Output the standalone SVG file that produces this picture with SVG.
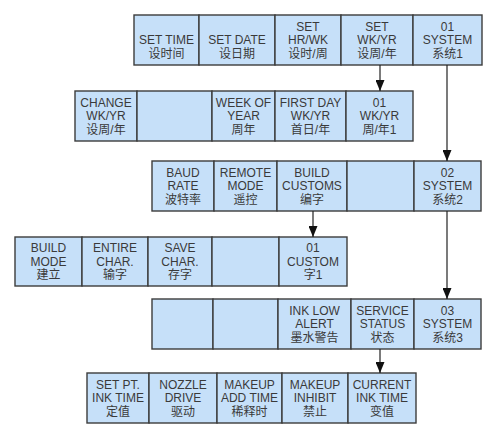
<svg xmlns="http://www.w3.org/2000/svg" width="500" height="439" viewBox="0 0 500 439">
<style>
.c{fill:#c6e0f9;stroke:#3c3c3c;stroke-width:1.4}
.t{font-family:"Liberation Sans","Noto Sans CJK SC",sans-serif;font-size:12px;fill:#3a3a3a;text-anchor:middle}
.l{stroke:#222;stroke-width:1.2;fill:none}
</style>
<defs>
<marker id="ah" markerWidth="11" markerHeight="9" refX="11" refY="4.5" orient="auto" markerUnits="userSpaceOnUse" viewBox="0 0 11 9">
<path d="M0,0 L11,4.5 L0,9 Z" fill="#111"/>
</marker>
</defs>
<rect width="500" height="439" fill="#fff"/>

<!-- Row 1 -->
<g id="set-time"><rect class="c" x="134" y="15" width="65" height="50"/><text class="t"><tspan x="166.5" y="44">SET TIME</tspan><tspan x="166.5" y="57.5">设时间</tspan></text></g>
<g id="set-date"><rect class="c" x="199" y="15" width="76" height="50"/><text class="t"><tspan x="237" y="44">SET DATE</tspan><tspan x="237" y="57.5">设日期</tspan></text></g>
<g id="set-hrwk"><rect class="c" x="275" y="15" width="66" height="50"/><text class="t"><tspan x="308" y="30.5">SET</tspan><tspan x="308" y="44">HR/WK</tspan><tspan x="308" y="57.5">设时/周</tspan></text></g>
<g id="set-wkyr"><rect class="c" x="341" y="15" width="72" height="50"/><text class="t"><tspan x="377" y="30.5">SET</tspan><tspan x="377" y="44">WK/YR</tspan><tspan x="377" y="57.5">设周/年</tspan></text></g>
<g id="system1"><rect class="c" x="413" y="15" width="69" height="50"/><text class="t"><tspan x="447.5" y="30.5">01</tspan><tspan x="447.5" y="44">SYSTEM</tspan><tspan x="447.5" y="57.5">系统1</tspan></text></g>

<!-- Row 2 -->
<g id="change-wkyr"><rect class="c" x="75" y="91" width="62" height="50"/><text class="t"><tspan x="106" y="106.5">CHANGE</tspan><tspan x="106" y="120">WK/YR</tspan><tspan x="106" y="133.5">设周/年</tspan></text></g>
<g id="blank-2"><rect class="c" x="137" y="91" width="75" height="50"/></g>
<g id="week-of-year"><rect class="c" x="212" y="91" width="63" height="50"/><text class="t"><tspan x="243.5" y="106.5">WEEK OF</tspan><tspan x="243.5" y="120">YEAR</tspan><tspan x="243.5" y="133.5">周年</tspan></text></g>
<g id="first-day"><rect class="c" x="275" y="91" width="71" height="50"/><text class="t"><tspan x="310.5" y="106.5">FIRST DAY</tspan><tspan x="310.5" y="120">WK/YR</tspan><tspan x="310.5" y="133.5">首日/年</tspan></text></g>
<g id="wkyr1"><rect class="c" x="346" y="91" width="67" height="50"/><text class="t"><tspan x="379.5" y="106.5">01</tspan><tspan x="379.5" y="120">WK/YR</tspan><tspan x="379.5" y="133.5">周/年1</tspan></text></g>

<!-- Row 3 -->
<g id="baud-rate"><rect class="c" x="152" y="161" width="62" height="50"/><text class="t"><tspan x="183" y="176.5">BAUD</tspan><tspan x="183" y="190">RATE</tspan><tspan x="183" y="203.5">波特率</tspan></text></g>
<g id="remote-mode"><rect class="c" x="214" y="161" width="63" height="50"/><text class="t"><tspan x="245.5" y="176.5">REMOTE</tspan><tspan x="245.5" y="190">MODE</tspan><tspan x="245.5" y="203.5">遥控</tspan></text></g>
<g id="build-customs"><rect class="c" x="277" y="161" width="70" height="50"/><text class="t"><tspan x="312" y="176.5">BUILD</tspan><tspan x="312" y="190">CUSTOMS</tspan><tspan x="312" y="203.5">编字</tspan></text></g>
<g id="blank-3"><rect class="c" x="347" y="161" width="67" height="50"/></g>
<g id="system2"><rect class="c" x="414" y="161" width="67" height="50"/><text class="t"><tspan x="447.5" y="176.5">02</tspan><tspan x="447.5" y="190">SYSTEM</tspan><tspan x="447.5" y="203.5">系统2</tspan></text></g>

<!-- Row 4 -->
<g id="build-mode"><rect class="c" x="15" y="237" width="67" height="49"/><text class="t"><tspan x="48.5" y="252">BUILD</tspan><tspan x="48.5" y="265.5">MODE</tspan><tspan x="48.5" y="279">建立</tspan></text></g>
<g id="entire-char"><rect class="c" x="82" y="237" width="66" height="49"/><text class="t"><tspan x="115" y="252">ENTIRE</tspan><tspan x="115" y="265.5">CHAR.</tspan><tspan x="115" y="279">输字</tspan></text></g>
<g id="save-char"><rect class="c" x="148" y="237" width="64" height="49"/><text class="t"><tspan x="180" y="252">SAVE</tspan><tspan x="180" y="265.5">CHAR.</tspan><tspan x="180" y="279">存字</tspan></text></g>
<g id="blank-4"><rect class="c" x="212" y="237" width="67" height="49"/></g>
<g id="custom1"><rect class="c" x="279" y="237" width="68" height="49"/><text class="t"><tspan x="313" y="252">01</tspan><tspan x="313" y="265.5">CUSTOM</tspan><tspan x="313" y="279">字1</tspan></text></g>

<!-- Row 5 -->
<g id="blank-5a"><rect class="c" x="152" y="299" width="61" height="50"/></g>
<g id="blank-5b"><rect class="c" x="213" y="299" width="65" height="50"/></g>
<g id="ink-low-alert"><rect class="c" x="278" y="299" width="73" height="50"/><text class="t"><tspan x="314.5" y="314.5">INK LOW</tspan><tspan x="314.5" y="328">ALERT</tspan><tspan x="314.5" y="341.5">墨水警告</tspan></text></g>
<g id="service-status"><rect class="c" x="351" y="299" width="63" height="50"/><text class="t"><tspan x="382.5" y="314.5">SERVICE</tspan><tspan x="382.5" y="328">STATUS</tspan><tspan x="382.5" y="341.5">状态</tspan></text></g>
<g id="system3"><rect class="c" x="414" y="299" width="67" height="50"/><text class="t"><tspan x="447.5" y="314.5">03</tspan><tspan x="447.5" y="328">SYSTEM</tspan><tspan x="447.5" y="341.5">系统3</tspan></text></g>

<!-- Row 6 -->
<g id="set-pt-ink-time"><rect class="c" x="87" y="373" width="62" height="50"/><text class="t"><tspan x="118" y="388.5">SET PT.</tspan><tspan x="118" y="402">INK TIME</tspan><tspan x="118" y="415.5">定值</tspan></text></g>
<g id="nozzle-drive"><rect class="c" x="149" y="373" width="68" height="50"/><text class="t"><tspan x="183" y="388.5">NOZZLE</tspan><tspan x="183" y="402">DRIVE</tspan><tspan x="183" y="415.5">驱动</tspan></text></g>
<g id="makeup-add-time"><rect class="c" x="217" y="373" width="65" height="50"/><text class="t"><tspan x="249.5" y="388.5">MAKEUP</tspan><tspan x="249.5" y="402">ADD TIME</tspan><tspan x="249.5" y="415.5">稀释时</tspan></text></g>
<g id="makeup-inhibit"><rect class="c" x="282" y="373" width="66" height="50"/><text class="t"><tspan x="315" y="388.5">MAKEUP</tspan><tspan x="315" y="402">INHIBIT</tspan><tspan x="315" y="415.5">禁止</tspan></text></g>
<g id="current-ink-time"><rect class="c" x="348" y="373" width="68" height="50"/><text class="t"><tspan x="382" y="388.5">CURRENT</tspan><tspan x="382" y="402">INK TIME</tspan><tspan x="382" y="415.5">变值</tspan></text></g>

<g id="connectors">
<line class="l" x1="380" y1="65" x2="380" y2="91" marker-end="url(#ah)"/>
<line class="l" x1="447" y1="65" x2="447" y2="161" marker-end="url(#ah)"/>
<line class="l" x1="313" y1="211" x2="313" y2="237" marker-end="url(#ah)"/>
<line class="l" x1="447" y1="211" x2="447" y2="299" marker-end="url(#ah)"/>
<line class="l" x1="380" y1="349" x2="380" y2="373" marker-end="url(#ah)"/>
</g>
</svg>
